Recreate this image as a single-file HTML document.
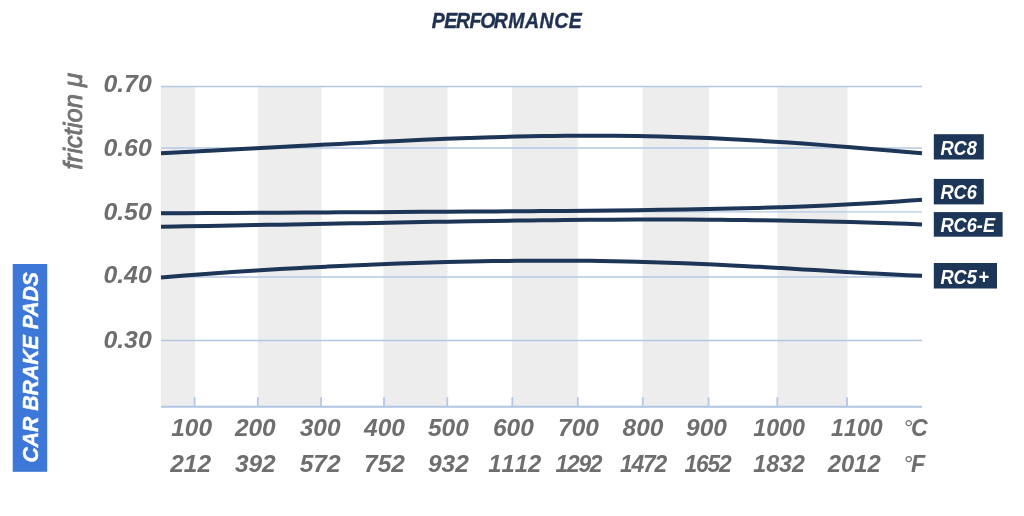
<!DOCTYPE html>
<html lang="en"><head><meta charset="utf-8"><title>Performance</title>
<style>
html,body{margin:0;padding:0;background:#fff;}
body{width:1024px;height:516px;overflow:hidden;position:relative;font-family:"Liberation Sans",sans-serif;}
svg{position:absolute;left:0;top:0;display:block;}
text{font-family:"Liberation Sans",sans-serif;font-style:italic;font-weight:bold;}
.ax{fill:#6e6e6e;font-size:23.2px;font-kerning:none;}
.fr{fill:#727272;stroke:#727272;stroke-width:0.9px;font-size:25.6px;font-weight:normal;}
.lb{fill:#fff;font-size:19.8px;}
.ti{fill:#1f3050;stroke:#1f3050;stroke-width:0.35px;font-size:21.4px;}
.cb{fill:#fff;stroke:#fff;stroke-width:0.4px;font-size:22.4px;}
</style></head><body>
<svg width="1024" height="516" viewBox="0 0 1024 516">
<rect x="0" y="0" width="1024" height="516" fill="#fff"/>
<text class="ti" transform="translate(0,27.7) scale(0.912,1)" x="473.46 487.06 500.00 514.69 526.64 541.45 557.35 575.55 591.45 607.68 623.57">PERFORMANCE</text>
<rect x="160.8" y="86.5" width="34.2" height="320" fill="#ededed"/>
<rect x="258.0" y="86.5" width="63.5" height="320" fill="#ededed"/>
<rect x="383.5" y="86.5" width="64.0" height="320" fill="#ededed"/>
<rect x="512.0" y="86.5" width="66.0" height="320" fill="#ededed"/>
<rect x="642.5" y="86.5" width="66.5" height="320" fill="#ededed"/>
<rect x="777.5" y="86.5" width="70.0" height="320" fill="#ededed"/>
<line x1="161" y1="86.5" x2="922" y2="86.5" stroke="#b4c8e4" stroke-width="1.3"/>
<line x1="161" y1="148" x2="922" y2="148" stroke="#b4c8e4" stroke-width="1.3"/>
<line x1="161" y1="211.8" x2="922" y2="211.8" stroke="#b4c8e4" stroke-width="1.3"/>
<line x1="161" y1="277" x2="922" y2="277" stroke="#b4c8e4" stroke-width="1.3"/>
<line x1="161" y1="340.5" x2="922" y2="340.5" stroke="#b4c8e4" stroke-width="1.3"/>
<line x1="161" y1="406.7" x2="922" y2="406.7" stroke="#b1c5e1" stroke-width="2"/>
<line x1="194.6" y1="397.2" x2="194.6" y2="406.7" stroke="#b3c9e5" stroke-width="1.8"/>
<line x1="257.8" y1="397.2" x2="257.8" y2="406.7" stroke="#b3c9e5" stroke-width="1.8"/>
<line x1="321.1" y1="397.2" x2="321.1" y2="406.7" stroke="#b3c9e5" stroke-width="1.8"/>
<line x1="384" y1="397.2" x2="384" y2="406.7" stroke="#b3c9e5" stroke-width="1.8"/>
<line x1="447.3" y1="397.2" x2="447.3" y2="406.7" stroke="#b3c9e5" stroke-width="1.8"/>
<line x1="512.3" y1="397.2" x2="512.3" y2="406.7" stroke="#b3c9e5" stroke-width="1.8"/>
<line x1="577.8" y1="397.2" x2="577.8" y2="406.7" stroke="#b3c9e5" stroke-width="1.8"/>
<line x1="642.8" y1="397.2" x2="642.8" y2="406.7" stroke="#b3c9e5" stroke-width="1.8"/>
<line x1="708.6" y1="397.2" x2="708.6" y2="406.7" stroke="#b3c9e5" stroke-width="1.8"/>
<line x1="777.3" y1="397.2" x2="777.3" y2="406.7" stroke="#b3c9e5" stroke-width="1.8"/>
<line x1="847" y1="397.2" x2="847" y2="406.7" stroke="#b3c9e5" stroke-width="1.8"/>
<path d="M161.00 153.13 C164.96 152.94 176.85 152.37 184.78 151.99 C192.71 151.60 200.64 151.20 208.56 150.80 C216.49 150.40 224.42 149.99 232.34 149.58 C240.27 149.17 248.20 148.76 256.12 148.34 C264.05 147.92 271.98 147.50 279.91 147.07 C287.83 146.65 295.76 146.22 303.69 145.80 C311.61 145.38 319.54 144.95 327.47 144.53 C335.40 144.12 343.32 143.70 351.25 143.29 C359.18 142.88 367.10 142.47 375.03 142.08 C382.96 141.68 390.89 141.30 398.81 140.92 C406.74 140.55 414.67 140.18 422.59 139.84 C430.52 139.49 438.45 139.16 446.38 138.84 C454.30 138.53 462.23 138.23 470.16 137.95 C478.08 137.68 486.01 137.42 493.94 137.19 C501.86 136.96 509.79 136.75 517.72 136.56 C525.65 136.38 533.57 136.22 541.50 136.09 C549.43 135.97 557.35 135.87 565.28 135.80 C573.21 135.73 581.14 135.69 589.06 135.68 C596.99 135.67 604.92 135.70 612.84 135.76 C620.77 135.82 628.70 135.91 636.62 136.03 C644.55 136.16 652.48 136.32 660.41 136.52 C668.33 136.71 676.26 136.94 684.19 137.21 C692.11 137.48 700.04 137.78 707.97 138.11 C715.90 138.44 723.82 138.81 731.75 139.21 C739.68 139.61 747.60 140.04 755.53 140.50 C763.46 140.96 771.39 141.46 779.31 141.98 C787.24 142.49 795.17 143.04 803.09 143.61 C811.02 144.18 818.95 144.77 826.88 145.38 C834.80 145.99 842.73 146.63 850.66 147.27 C858.58 147.91 866.51 148.57 874.44 149.23 C882.36 149.88 890.29 150.56 898.22 151.22 C906.15 151.88 918.04 152.87 922.00 153.21" fill="none" stroke="#1d3557" stroke-width="4" stroke-linecap="butt"/>
<path d="M161.00 213.30 C164.96 213.28 176.85 213.23 184.78 213.19 C192.71 213.16 200.64 213.12 208.56 213.08 C216.49 213.04 224.42 213.00 232.34 212.95 C240.27 212.91 248.20 212.87 256.12 212.82 C264.05 212.78 271.98 212.73 279.91 212.69 C287.83 212.64 295.76 212.60 303.69 212.55 C311.61 212.50 319.54 212.46 327.47 212.41 C335.40 212.37 343.32 212.32 351.25 212.27 C359.18 212.23 367.10 212.18 375.03 212.13 C382.96 212.09 390.89 212.04 398.81 211.99 C406.74 211.95 414.67 211.90 422.59 211.85 C430.52 211.81 438.45 211.76 446.38 211.71 C454.30 211.66 462.23 211.62 470.16 211.57 C478.08 211.52 486.01 211.47 493.94 211.42 C501.86 211.37 509.79 211.31 517.72 211.26 C525.65 211.20 533.57 211.15 541.50 211.09 C549.43 211.03 557.35 210.97 565.28 210.90 C573.21 210.84 581.14 210.77 589.06 210.69 C596.99 210.62 604.92 210.54 612.84 210.46 C620.77 210.37 628.70 210.28 636.62 210.18 C644.55 210.08 652.48 209.98 660.41 209.86 C668.33 209.75 676.26 209.63 684.19 209.49 C692.11 209.35 700.04 209.21 707.97 209.05 C715.90 208.89 723.82 208.72 731.75 208.53 C739.68 208.35 747.60 208.15 755.53 207.93 C763.46 207.71 771.39 207.47 779.31 207.21 C787.24 206.96 795.17 206.68 803.09 206.38 C811.02 206.08 818.95 205.76 826.88 205.40 C834.80 205.05 842.73 204.68 850.66 204.27 C858.58 203.86 866.51 203.43 874.44 202.96 C882.36 202.49 890.29 201.99 898.22 201.45 C906.15 200.91 918.04 200.00 922.00 199.71" fill="none" stroke="#1d3557" stroke-width="4" stroke-linecap="butt"/>
<path d="M161.00 226.80 C164.96 226.73 176.85 226.50 184.78 226.36 C192.71 226.21 200.64 226.07 208.56 225.92 C216.49 225.78 224.42 225.64 232.34 225.49 C240.27 225.35 248.20 225.21 256.12 225.07 C264.05 224.93 271.98 224.78 279.91 224.64 C287.83 224.50 295.76 224.36 303.69 224.21 C311.61 224.07 319.54 223.92 327.47 223.78 C335.40 223.64 343.32 223.49 351.25 223.35 C359.18 223.20 367.10 223.06 375.03 222.92 C382.96 222.78 390.89 222.63 398.81 222.49 C406.74 222.35 414.67 222.21 422.59 222.07 C430.52 221.94 438.45 221.80 446.38 221.67 C454.30 221.54 462.23 221.41 470.16 221.28 C478.08 221.16 486.01 221.04 493.94 220.92 C501.86 220.80 509.79 220.69 517.72 220.59 C525.65 220.48 533.57 220.38 541.50 220.29 C549.43 220.19 557.35 220.11 565.28 220.03 C573.21 219.95 581.14 219.88 589.06 219.82 C596.99 219.76 604.92 219.71 612.84 219.66 C620.77 219.62 628.70 219.59 636.62 219.57 C644.55 219.55 652.48 219.54 660.41 219.54 C668.33 219.54 676.26 219.55 684.19 219.58 C692.11 219.60 700.04 219.64 707.97 219.69 C715.90 219.74 723.82 219.80 731.75 219.88 C739.68 219.96 747.60 220.05 755.53 220.16 C763.46 220.26 771.39 220.38 779.31 220.51 C787.24 220.65 795.17 220.79 803.09 220.96 C811.02 221.12 818.95 221.29 826.88 221.48 C834.80 221.67 842.73 221.88 850.66 222.09 C858.58 222.31 866.51 222.54 874.44 222.79 C882.36 223.03 890.29 223.29 898.22 223.56 C906.15 223.83 918.04 224.26 922.00 224.40" fill="none" stroke="#1d3557" stroke-width="4" stroke-linecap="butt"/>
<path d="M161.00 277.61 C164.96 277.28 176.85 276.23 184.78 275.58 C192.71 274.94 200.64 274.33 208.56 273.74 C216.49 273.15 224.42 272.60 232.34 272.06 C240.27 271.52 248.20 271.01 256.12 270.52 C264.05 270.02 271.98 269.55 279.91 269.09 C287.83 268.64 295.76 268.20 303.69 267.78 C311.61 267.36 319.54 266.96 327.47 266.57 C335.40 266.19 343.32 265.82 351.25 265.47 C359.18 265.11 367.10 264.78 375.03 264.46 C382.96 264.14 390.89 263.84 398.81 263.55 C406.74 263.27 414.67 263.00 422.59 262.75 C430.52 262.51 438.45 262.28 446.38 262.07 C454.30 261.86 462.23 261.68 470.16 261.51 C478.08 261.35 486.01 261.20 493.94 261.09 C501.86 260.97 509.79 260.87 517.72 260.80 C525.65 260.73 533.57 260.68 541.50 260.66 C549.43 260.64 557.35 260.65 565.28 260.68 C573.21 260.71 581.14 260.77 589.06 260.86 C596.99 260.95 604.92 261.06 612.84 261.21 C620.77 261.35 628.70 261.53 636.62 261.72 C644.55 261.92 652.48 262.15 660.41 262.41 C668.33 262.66 676.26 262.94 684.19 263.25 C692.11 263.56 700.04 263.89 707.97 264.25 C715.90 264.60 723.82 264.98 731.75 265.38 C739.68 265.78 747.60 266.20 755.53 266.63 C763.46 267.06 771.39 267.52 779.31 267.97 C787.24 268.43 795.17 268.91 803.09 269.38 C811.02 269.85 818.95 270.34 826.88 270.81 C834.80 271.29 842.73 271.76 850.66 272.22 C858.58 272.68 866.51 273.13 874.44 273.56 C882.36 273.98 890.29 274.39 898.22 274.75 C906.15 275.12 918.04 275.58 922.00 275.74" fill="none" stroke="#1d3557" stroke-width="4" stroke-linecap="butt"/>
<text class="ax" transform="translate(151.70,91.70) scale(1.07,1)" text-anchor="end">0.70</text>
<text class="ax" transform="translate(151.70,156.00) scale(1.07,1)" text-anchor="end">0.60</text>
<text class="ax" transform="translate(151.70,219.70) scale(1.07,1)" text-anchor="end">0.50</text>
<text class="ax" transform="translate(151.70,283.00) scale(1.07,1)" text-anchor="end">0.40</text>
<text class="ax" transform="translate(151.70,348.10) scale(1.07,1)" text-anchor="end">0.30</text>
<text class="ax" transform="translate(191.60,436.10) scale(1.055,1)" text-anchor="middle">100</text>
<text class="ax" transform="translate(255.30,436.10) scale(1.055,1)" text-anchor="middle">200</text>
<text class="ax" transform="translate(320.10,436.10) scale(1.055,1)" text-anchor="middle">300</text>
<text class="ax" transform="translate(384.50,436.10) scale(1.055,1)" text-anchor="middle">400</text>
<text class="ax" transform="translate(448.40,436.10) scale(1.055,1)" text-anchor="middle">500</text>
<text class="ax" transform="translate(513.40,436.10) scale(1.055,1)" text-anchor="middle">600</text>
<text class="ax" transform="translate(578.50,436.10) scale(1.055,1)" text-anchor="middle">700</text>
<text class="ax" transform="translate(643.00,436.10) scale(1.055,1)" text-anchor="middle">800</text>
<text class="ax" transform="translate(706.50,436.10) scale(1.055,1)" text-anchor="middle">900</text>
<text class="ax" transform="translate(779.10,436.10)" text-anchor="middle">1000</text>
<text class="ax" transform="translate(856.90,436.10)" text-anchor="middle">1100</text>
<text class="ax" transform="translate(190.60,471.90) scale(1.055,1)" text-anchor="middle">212</text>
<text class="ax" transform="translate(255.30,471.90) scale(1.055,1)" text-anchor="middle">392</text>
<text class="ax" transform="translate(320.10,471.90) scale(1.055,1)" text-anchor="middle">572</text>
<text class="ax" transform="translate(384.50,471.90) scale(1.055,1)" text-anchor="middle">752</text>
<text class="ax" transform="translate(448.40,471.90) scale(1.055,1)" text-anchor="middle">932</text>
<text class="ax" transform="translate(514.70,471.90) scale(1.025,1)" text-anchor="middle">1112</text>
<text class="ax" transform="translate(578.40,471.90) scale(0.985,1)" text-anchor="middle" letter-spacing="-1.25">1292</text>
<text class="ax" transform="translate(643.00,471.90) scale(0.985,1)" text-anchor="middle" letter-spacing="-1.25">1472</text>
<text class="ax" transform="translate(707.50,471.90) scale(0.985,1)" text-anchor="middle" letter-spacing="-1.25">1652</text>
<text class="ax" transform="translate(779.10,471.90)" text-anchor="middle">1832</text>
<text class="ax" transform="translate(854.20,471.90) scale(1.025,1)" text-anchor="middle">2012</text>
<text class="ax" transform="translate(903.20,436.10)"><tspan font-weight="normal">°</tspan><tspan dx="-1.4">C</tspan></text>
<text class="ax" transform="translate(903.20,471.90)"><tspan font-weight="normal">°</tspan><tspan dx="-1.4">F</tspan></text>
<text class="fr" transform="translate(82.20,169.50) rotate(-90)">friction μ</text>
<rect x="933.8" y="134.2" width="50" height="25.3" fill="#1d3557"/>
<text class="lb" transform="translate(940.40,154.50) scale(0.92,1)">RC8</text>
<rect x="933.8" y="178.9" width="50" height="25.5" fill="#1d3557"/>
<text class="lb" transform="translate(940.40,199.40) scale(0.92,1)">RC6</text>
<rect x="933.8" y="212.1" width="68.8" height="24.6" fill="#1d3557"/>
<text class="lb" transform="translate(940.40,231.70) scale(0.92,1)">RC6-E</text>
<rect x="933.8" y="263" width="63.2" height="25.5" fill="#1d3557"/>
<text class="lb" transform="translate(940.40,283.50) scale(0.92,1)">RC5<tspan dx="1.6">+</tspan></text>
<rect x="12.7" y="264" width="34.5" height="207.8" fill="#3d77d7"/>
<text class="cb" transform="translate(38.20,462.60) rotate(-90) scale(0.948,1)">CAR BRAKE PADS</text>
</svg></body></html>
